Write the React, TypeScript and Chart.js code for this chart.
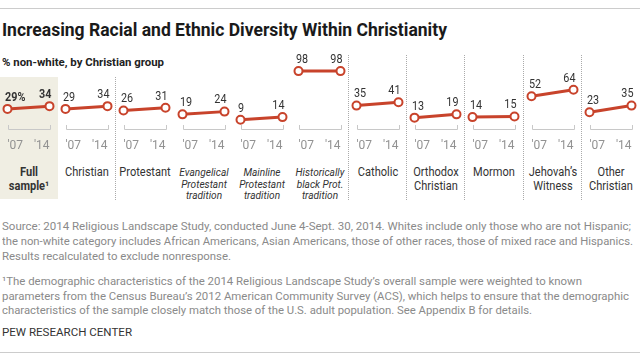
import React, { useEffect, useLayoutEffect, useRef } from "react";
import { Chart, registerables } from "chart.js";
Chart.register(...registerables);

// ---------- data ----------
const groups = [
  "Full\nsample¹",
  "Christian",
  "Protestant",
  "Evangelical\nProtestant\ntradition",
  "Mainline\nProtestant\ntradition",
  "Historically\nblack Prot.\ntradition",
  "Catholic",
  "Orthodox\nChristian",
  "Mormon",
  "Jehovah’s\nWitness",
  "Other\nChristian",
];
const yearLabels = ["'07", "'14"];
const values2007 = [29, 29, 26, 19, 9, 98, 35, 13, 14, 52, 23];
const values2014 = [34, 34, 31, 24, 14, 98, 41, 19, 15, 64, 35];

const titleText = "Increasing Racial and Ethnic Diversity Within Christianity";
const subtitleText = "% non-white, by Christian group";
const sourceLines = [
  "Source: 2014 Religious Landscape Study, conducted June 4-Sept. 30, 2014. Whites include only those who are not Hispanic;",
  "the non-white category includes African Americans, Asian Americans, those of other races, those of mixed race and Hispanics.",
  "Results recalculated to exclude nonresponse.",
];
const footnoteLines = [
  "¹The demographic characteristics of the 2014 Religious Landscape Study’s overall sample were weighted to known",
  "parameters from the Census Bureau’s 2012 American Community Survey (ACS), which helps to ensure that the demographic",
  "characteristics of the sample closely match those of the U.S. adult population. See Appendix B for details.",
];
const creditText = "PEW RESEARCH CENTER";

// ---------- style / layout ----------
const RED = "#c8432b";
const FONT = "Roboto, 'Noto Sans', sans-serif";
const PANEL_W = 640 / 11;
const italicIdx = [3, 4, 5];
const dividerIdx = [2, 6, 7, 8, 9, 10];

function Fit(props: { text: string; x: number; cy: number; w: number; size: number; lh: number; weight?: number; color: string }) {
  const ref = useRef<HTMLSpanElement>(null);
  useLayoutEffect(() => {
    const el = ref.current;
    if (!el) return;
    el.style.transform = "none";
    const actual = el.getBoundingClientRect().width;
    if (actual > 0) el.style.transform = `scaleX(${props.w / actual})`;
  }, [props.text, props.w]);
  return (
    <span
      ref={ref}
      style={{
        position: "absolute",
        left: props.x,
        top: props.cy - props.lh / 2,
        whiteSpace: "nowrap",
        transformOrigin: "0 0",
        fontFamily: FONT,
        fontSize: props.size,
        lineHeight: props.lh + "px",
        fontWeight: props.weight ?? 400,
        color: props.color,
      }}
    >
      {props.text}
    </span>
  );
}

const bracketPlugin = {
  id: "bracket",
  beforeDatasetsDraw(chart: any) {
    const { ctx } = chart;
    const xs = chart.scales.x;
    const ys = chart.scales.y;
    const x0 = Math.round(xs.getPixelForValue(0)) + 0.5;
    const x1 = Math.round(xs.getPixelForValue(1)) + 0.5;
    const yb = Math.round(ys.getPixelForValue(ys.min)) + 0.5;
    const yt = Math.round(ys.getPixelForValue(0));
    ctx.save();
    ctx.strokeStyle = "#c8c8c8";
    ctx.lineWidth = 1;
    ctx.beginPath();
    ctx.moveTo(x0, yt);
    ctx.lineTo(x0, yb);
    ctx.lineTo(x1, yb);
    ctx.lineTo(x1, yt);
    ctx.stroke();
    ctx.restore();
  },
};

function makeLabelPlugin(index: number) {
  return {
    id: "valueLabels",
    afterDatasetsDraw(chart: any) {
      const ctx = chart.ctx;
      const meta = chart.getDatasetMeta(0);
      const data = chart.data.datasets[0].data;
      meta.data.forEach((pt: any, i: number) => {
        const txt = String(data[i]) + (index === 0 && i === 0 ? "%" : "");
        ctx.save();
        ctx.font = `${index === 0 ? "bold " : ""}13.5px ${FONT}`;
        ctx.fillStyle = "#333";
        ctx.textBaseline = "middle";
        ctx.textAlign = i === 0 ? "left" : "right";
        ctx.translate(i === 0 ? pt.x - 2.5 : pt.x + 2, pt.y - 11.5);
        ctx.scale(0.8, 1);
        ctx.fillText(txt, 0, 0);
        ctx.restore();
      });
    },
  };
}

function Panel({ index }: { index: number }) {
  const ref = useRef<HTMLCanvasElement>(null);
  useEffect(() => {
    if (!ref.current) return;
    const chart = new Chart(ref.current, {
      type: "line",
      data: {
        labels: yearLabels,
        datasets: [
          {
            data: [values2007[index], values2014[index]],
            borderColor: RED,
            borderWidth: 3,
            pointRadius: 4,
            pointBorderWidth: 2,
            pointBackgroundColor: "#fff",
            pointBorderColor: RED,
            clip: false as any,
            tension: 0,
          },
        ],
      },
      options: {
        responsive: false,
        animation: false,
        events: [],
        layout: { padding: { left: 7.5, right: 8.5, top: 20, bottom: 0 } },
        plugins: { legend: { display: false }, tooltip: { enabled: false } },
        scales: {
          x: {
            type: "category",
            offset: false,
            grid: { display: false },
            border: { display: false },
            ticks: {
              align: "inner",
              padding: 2.5,
              color: "#929292",
              font: { family: FONT, size: 12 },
              maxRotation: 0,
              autoSkip: false,
            },
          },
          y: { display: false, min: -7, max: 100 },
        },
      },
      plugins: [bracketPlugin, makeLabelPlugin(index)],
    } as any);
    return () => chart.destroy();
  }, [index]);
  return (
    <canvas
      ref={ref}
      width={58}
      height={106}
      style={{ position: "absolute", left: Math.round(index * PANEL_W), top: 50, width: 58, height: 106 }}
    />
  );
}

export default function App() {
  return (
    <div style={{ position: "absolute", left: 0, top: 0, width: 640, height: 359, background: "#fff", overflow: "hidden" }}>
      <div style={{ position: "absolute", left: 0, top: 8, width: 640, height: 1, background: "#ccc" }} />
      <Fit text={titleText} x={2} cy={30} w={445} size={18.5} lh={22} weight={700} color="#1a1a1a" />
      <Fit text={subtitleText} x={2} cy={62} w={162} size={11.5} lh={14} weight={700} color="#222" />

      <div style={{ position: "absolute", left: 0, top: 77, width: 58, height: 122, background: "#f0eee3" }} />
      {dividerIdx.map((d) => (
        <div
          key={d}
          style={{
            position: "absolute",
            left: Math.round(d * PANEL_W) - 1,
            top: d === 2 ? 77 : 55,
            height: d === 2 ? 123 : 145,
            width: 0,
            borderLeft: "1px dotted #aaa",
          }}
        />
      ))}

      {groups.map((g, i) => (
        <Panel key={"p" + i} index={i} />
      ))}

      {groups.map((g, i) => {
        const it = italicIdx.includes(i);
        return (
          <div
            key={"l" + i}
            style={{
              position: "absolute",
              left: Math.round(i * PANEL_W),
              top: it ? 166.8 : 164.5,
              width: 58,
              textAlign: "center",
              whiteSpace: "pre-line",
              fontFamily: FONT,
              fontSize: it ? 11 : 12,
              lineHeight: it ? "11.7px" : "14.3px",
              fontStyle: it ? "italic" : "normal",
              fontWeight: i === 0 ? 700 : 400,
              color: "#333",
              transform: "scaleX(0.92)",
              transformOrigin: "50% 0",
            }}
          >
            {g}
          </div>
        );
      })}

      <Fit text={sourceLines[0]} x={2} cy={226.7} w={629} size={11} lh={15} color="#8a8a8a" />
      <Fit text={sourceLines[1]} x={2} cy={241.7} w={631} size={11} lh={15} color="#8a8a8a" />
      <Fit text={sourceLines[2]} x={2} cy={256} w={229} size={11} lh={15} color="#8a8a8a" />
      <Fit text={footnoteLines[0]} x={2} cy={281} w={580} size={11} lh={15} color="#8a8a8a" />
      <Fit text={footnoteLines[1]} x={2} cy={296} w={627} size={11} lh={15} color="#8a8a8a" />
      <Fit text={footnoteLines[2]} x={2} cy={310.5} w={530} size={11} lh={15} color="#8a8a8a" />
      <Fit text={creditText} x={2} cy={332.7} w={130} size={11.5} lh={15} color="#333" />

      <div style={{ position: "absolute", left: 0, top: 352, width: 640, height: 1, background: "#ccc" }} />
    </div>
  );
}
